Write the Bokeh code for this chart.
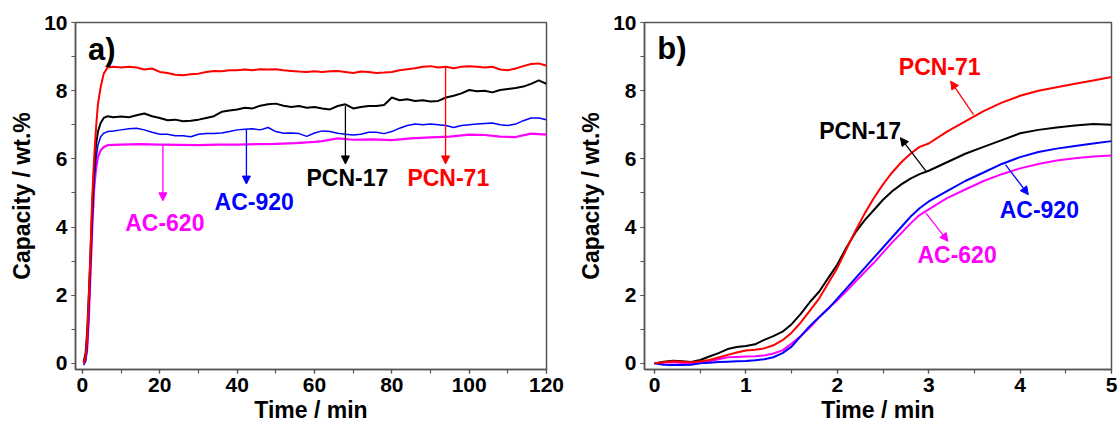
from bokeh.plotting import figure
from bokeh.layouts import row
from bokeh.models import Range1d, SingleIntervalTicker, Label, Arrow, NormalHead
from bokeh.embed import file_html
from bokeh.resources import INLINE

# ---------------- data: panel a (0-120 min) ----------------
a_pcn71_x = [0.3, 0.8, 1.2, 1.6, 2.0, 2.5, 3.0, 3.5, 4.0, 4.7, 5.5, 6.5, 8, 10, 12, 14, 16, 18, 20, 22, 24, 26, 28, 30,
             32, 34, 36, 38, 40, 42, 44, 46, 48, 50, 52, 54, 56, 58, 60, 62, 64, 66, 68, 70, 72, 74, 76, 78, 80,
             82, 84, 86, 88, 90, 92, 94, 96, 98, 100, 102, 104, 106, 108, 110, 112, 114, 116, 118, 120]
a_pcn71_y = [0.0, 0.2, 0.7, 1.8, 3.0, 4.8, 6.0, 6.9, 7.6, 8.1, 8.5, 8.68, 8.70, 8.68, 8.70, 8.68, 8.62, 8.65, 8.55, 8.52,
             8.47, 8.45, 8.48, 8.50, 8.55, 8.58, 8.57, 8.60, 8.60, 8.62, 8.60, 8.63, 8.62, 8.63, 8.60, 8.58, 8.56,
             8.55, 8.57, 8.55, 8.57, 8.58, 8.55, 8.52, 8.56, 8.55, 8.52, 8.53, 8.55, 8.60, 8.63, 8.66, 8.70, 8.72,
             8.68, 8.70, 8.66, 8.70, 8.72, 8.70, 8.68, 8.70, 8.62, 8.60, 8.65, 8.72, 8.78, 8.80, 8.73]

a_pcn17_x = a_pcn71_x
a_pcn17_y = [0.05, 0.3, 0.9, 1.9, 3.0, 4.5, 5.7, 6.4, 6.8, 7.05, 7.2, 7.25, 7.22, 7.24, 7.22, 7.28, 7.33, 7.25, 7.20,
             7.13, 7.15, 7.10, 7.12, 7.15, 7.20, 7.25, 7.38, 7.42, 7.45, 7.50, 7.48, 7.56, 7.60, 7.62, 7.56, 7.52,
             7.55, 7.50, 7.52, 7.48, 7.45, 7.55, 7.60, 7.48, 7.52, 7.55, 7.55, 7.58, 7.80, 7.72, 7.75, 7.70, 7.72,
             7.68, 7.70, 7.80, 7.85, 7.92, 8.02, 7.98, 8.00, 7.95, 8.02, 8.05, 8.08, 8.12, 8.20, 8.30, 8.20]

a_ac920_x = a_pcn71_x
a_ac920_y = [-0.05, 0.05, 0.4, 1.3, 2.5, 4.0, 5.3, 6.0, 6.4, 6.65, 6.75, 6.80, 6.82, 6.85, 6.88, 6.90, 6.85, 6.78,
             6.72, 6.72, 6.68, 6.68, 6.65, 6.72, 6.74, 6.74, 6.76, 6.80, 6.85, 6.87, 6.88, 6.85, 6.92, 6.80, 6.75,
             6.76, 6.74, 6.66, 6.76, 6.82, 6.80, 6.75, 6.72, 6.70, 6.72, 6.78, 6.78, 6.74, 6.80, 6.90, 6.98, 7.02,
             7.00, 7.02, 7.00, 6.98, 6.92, 6.98, 7.00, 7.02, 7.04, 7.05, 7.00, 6.98, 7.02, 7.12, 7.20, 7.20, 7.15]

a_ac620_x = [0.3, 0.8, 1.2, 1.6, 2.0, 2.5, 3.0, 3.5, 4.0, 4.7, 5.5, 6.5, 8, 10, 15, 20, 25, 30, 35, 40, 45, 50, 55,
             60, 62, 66, 70, 75, 80, 85, 90, 95, 100, 104, 108, 112, 116, 120]
a_ac620_y = [0.0, 0.1, 0.4, 1.2, 2.4, 3.9, 5.1, 5.7, 6.05, 6.25, 6.35, 6.40, 6.41, 6.42, 6.43, 6.42, 6.41, 6.40,
             6.42, 6.42, 6.43, 6.44, 6.46, 6.50, 6.52, 6.60, 6.56, 6.57, 6.55, 6.60, 6.63, 6.65, 6.71, 6.70, 6.65,
             6.64, 6.74, 6.71]

# ---------------- data: panel b (0-5 min) ----------------
b_x = [0.0, 0.1, 0.2, 0.3, 0.4, 0.5, 0.6, 0.7, 0.8, 0.9, 1.0, 1.1, 1.2, 1.3, 1.4, 1.5, 1.6, 1.7, 1.8, 1.9,
       2.0, 2.1, 2.2, 2.3, 2.4, 2.5, 2.6, 2.7, 2.8, 2.9, 3.0, 3.2, 3.4, 3.6, 3.8, 4.0, 4.2, 4.4, 4.6, 4.8, 5.0]
b_pcn71_y = [0.0, 0.03, 0.06, 0.05, 0.03, 0.06, 0.10, 0.17, 0.25, 0.32, 0.38, 0.40, 0.44, 0.53, 0.68, 0.90,
             1.20, 1.55, 1.90, 2.35, 2.80, 3.35, 3.90, 4.40, 4.85, 5.25, 5.60, 5.90, 6.15, 6.35, 6.45, 6.80,
             7.10, 7.40, 7.65, 7.85, 8.00, 8.10, 8.20, 8.30, 8.40]
b_pcn17_y = [0.0, 0.05, 0.08, 0.06, 0.04, 0.10, 0.20, 0.30, 0.42, 0.48, 0.51, 0.56, 0.69, 0.80, 0.93, 1.15,
             1.45, 1.80, 2.10, 2.50, 2.90, 3.40, 3.85, 4.20, 4.50, 4.80, 5.05, 5.25, 5.42, 5.55, 5.65, 5.90,
             6.15, 6.35, 6.55, 6.75, 6.85, 6.92, 6.98, 7.02, 7.00]
b_ac920_y = [0.0, -0.04, -0.05, -0.05, -0.04, 0.0, 0.02, 0.04, 0.05, 0.06, 0.07, 0.09, 0.12, 0.18, 0.30, 0.49,
             0.80, 1.10, 1.35, 1.60, 1.90, 2.20, 2.50, 2.80, 3.10, 3.40, 3.70, 4.00, 4.30, 4.55, 4.75, 5.05,
             5.35, 5.60, 5.85, 6.05, 6.20, 6.30, 6.38, 6.45, 6.52]
b_ac620_y = [0.0, 0.02, 0.03, 0.01, 0.0, 0.03, 0.06, 0.12, 0.18, 0.19, 0.20, 0.21, 0.23, 0.29, 0.38, 0.58,
             0.80, 1.05, 1.35, 1.62, 1.85, 2.12, 2.40, 2.68, 2.95, 3.25, 3.55, 3.82, 4.10, 4.35, 4.52, 4.85,
             5.10, 5.35, 5.55, 5.72, 5.85, 5.95, 6.02, 6.07, 6.10]

names = ["PCN-71", "PCN-17", "AC-920", "AC-620"]
colors = ["#ff0000", "#000000", "#0000ff", "#ff00ff"]

FONT = "Liberation Sans"
AXIS_GRAY = "#555555"


def style(p, xint):
    p.xgrid.visible = False
    p.ygrid.visible = False
    p.outline_line_color = AXIS_GRAY
    p.outline_line_width = 1.5
    p.xaxis.ticker = SingleIntervalTicker(interval=xint, num_minor_ticks=2)
    p.yaxis.ticker = SingleIntervalTicker(interval=2, num_minor_ticks=2)
    for ax in (p.xaxis[0], p.yaxis[0]):
        ax.axis_line_color = AXIS_GRAY
        ax.axis_line_width = 1.5
        ax.major_tick_line_color = AXIS_GRAY
        ax.minor_tick_line_color = AXIS_GRAY
        ax.major_tick_line_width = 1.2
        ax.minor_tick_line_width = 1.2
        ax.major_tick_in = 0
        ax.major_tick_out = 4
        ax.minor_tick_in = 0
        ax.minor_tick_out = 4
        ax.major_label_text_font = FONT
        ax.major_label_text_font_style = "bold"
        ax.major_label_text_font_size = "21px"
        ax.major_label_text_color = "#000000"
        ax.axis_label_text_font = FONT
        ax.axis_label_text_font_style = "bold"
        ax.axis_label_text_font_size = "23px"
        ax.axis_label_text_color = "#000000"
    p.xaxis.major_label_standoff = 4
    p.yaxis.major_label_standoff = 4
    p.xaxis.axis_label_standoff = 2
    p.yaxis.axis_label_standoff = 6
    p.xaxis.axis_label = "Time / min"
    p.yaxis.axis_label = "Capacity / wt.%"


def label(p, x, y, text, color, size="23px"):
    p.add_layout(Label(x=x, y=y, text=text, text_color=color, text_font=FONT,
                       text_font_style="bold", text_font_size=size,
                       text_align="center", text_baseline="middle"))


def arrow(p, x0, y0, x1, y1, color):
    p.add_layout(Arrow(end=NormalHead(size=8, fill_color=color, line_color=color, line_width=1),
                       x_start=x0, y_start=y0, x_end=x1, y_end=y1,
                       line_color=color, line_width=1.3))


# ---------------- panel a ----------------
pa = figure(width=575, height=430, output_backend="svg", toolbar_location=None,
            x_range=Range1d(-1.8, 120), y_range=Range1d(-0.18, 10.0),
            min_border_left=75, min_border_right=29, min_border_top=22, min_border_bottom=61)
style(pa, 20)
pa.line(a_ac620_x, a_ac620_y, line_color=colors[3], line_width=2.2)
pa.line(a_ac920_x, a_ac920_y, line_color=colors[2], line_width=1.5)
pa.line(a_pcn17_x, a_pcn17_y, line_color=colors[1], line_width=2)
pa.line(a_pcn71_x, a_pcn71_y, line_color=colors[0], line_width=2)

label(pa, 5.0, 9.2, "a)", "#000000", "31px")
arrow(pa, 20.8, 6.41, 20.8, 4.77, colors[3])
label(pa, 21.3, 4.13, "AC-620", colors[3])
arrow(pa, 42.4, 6.87, 42.4, 5.26, colors[2])
label(pa, 44.4, 4.72, "AC-920", colors[2])
arrow(pa, 68.0, 7.55, 68.0, 5.85, colors[1])
label(pa, 68.5, 5.45, "PCN-17", colors[1])
arrow(pa, 93.9, 8.68, 93.9, 5.85, colors[0])
label(pa, 94.6, 5.45, "PCN-71", colors[0])

# ---------------- panel b ----------------
pb = figure(width=545, height=430, output_backend="svg", toolbar_location=None,
            x_range=Range1d(-0.11, 5.0), y_range=Range1d(-0.18, 10.0),
            min_border_left=64, min_border_right=9, min_border_top=22, min_border_bottom=61)
style(pb, 1)
pb.line(b_x, b_ac620_y, line_color=colors[3], line_width=2)
pb.line(b_x, b_ac920_y, line_color=colors[2], line_width=2)
pb.line(b_x, b_pcn17_y, line_color=colors[1], line_width=2)
pb.line(b_x, b_pcn71_y, line_color=colors[0], line_width=2)

label(pb, 0.19, 9.25, "b)", "#000000", "31px")
arrow(pb, 3.49, 7.3, 3.24, 8.28, colors[0])
label(pb, 3.12, 8.68, "PCN-71", colors[0])
arrow(pb, 2.97, 5.64, 2.69, 6.62, colors[1])
label(pb, 2.25, 6.81, "PCN-17", colors[1])
arrow(pb, 3.84, 5.83, 4.09, 4.95, colors[2])
label(pb, 4.21, 4.51, "AC-920", colors[2])
arrow(pb, 2.97, 4.41, 3.21, 3.58, colors[3])
label(pb, 3.31, 3.19, "AC-620", colors[3])

layout = row(pa, pb)
open("out.html", "w").write(file_html(layout, INLINE))
